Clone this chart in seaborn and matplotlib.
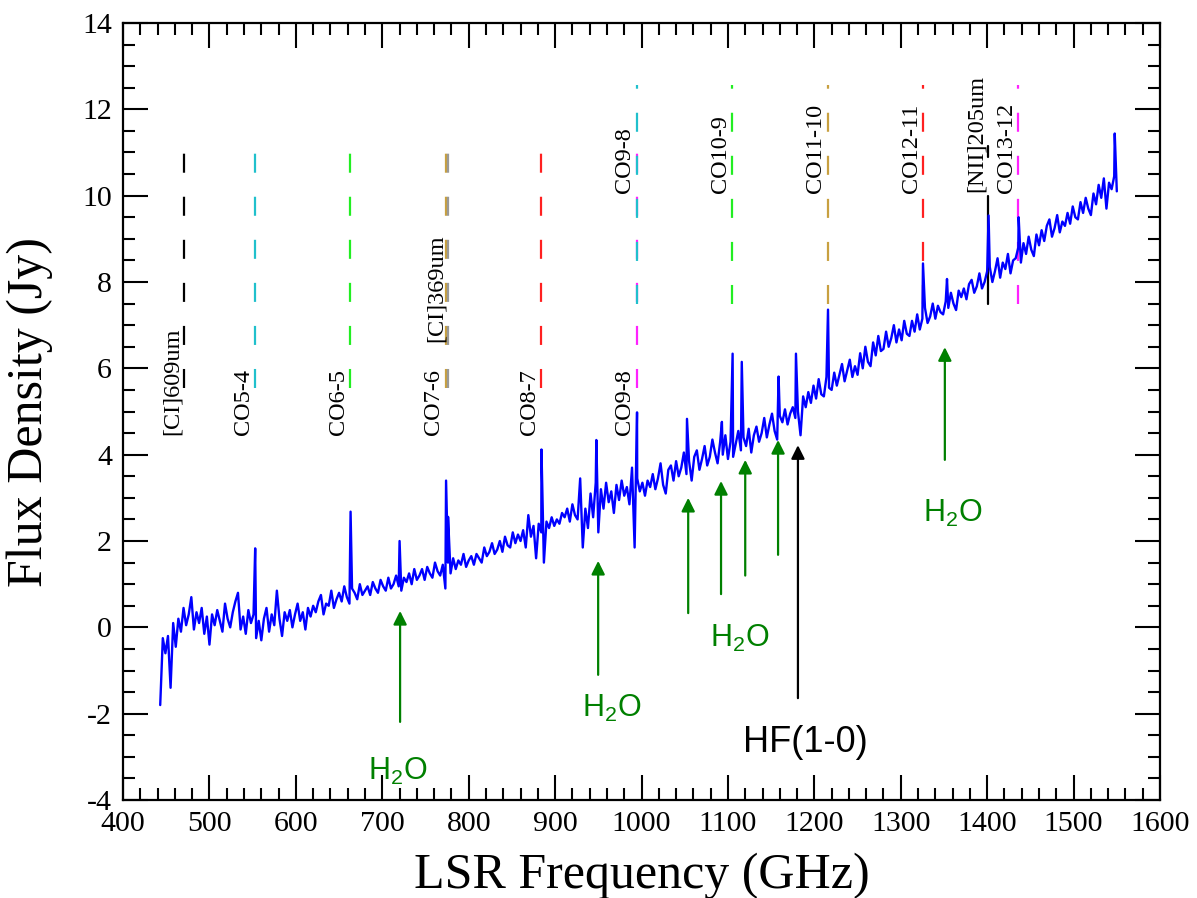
import numpy as np
import pandas as pd
import matplotlib
matplotlib.use("Agg")
import matplotlib.pyplot as plt
from matplotlib.ticker import MultipleLocator
import seaborn as sns

# ---------------- data ----------------
# continuum channels: start, step (GHz)
grid_start, grid_step = 443, 3
flux_continuum = [
    -1.80, -0.25, -0.60, -0.20, -1.40, 0.10, -0.45, 0.20, -0.10, 0.45,
    0.05, 0.30, 0.70, -0.05, 0.35, 0.10, 0.45, -0.15, 0.25, -0.40,
    0.30, 0.05, 0.40, 0.15, -0.10, 0.55, 0.20, 0.00, 0.35, 0.60,
    0.80, -0.05, 0.25, -0.15, 0.40, 0.10, 0.30, -0.25, 0.15, -0.30,
    0.20, 0.45, -0.10, 0.30, 0.05, 0.85, 0.20, -0.20, 0.35, 0.15,
    0.40, 0.00, 0.30, 0.55, 0.15, 0.35, -0.05, 0.45, 0.25, 0.50,
    0.35, 0.60, 0.75, 0.30, 0.55, 0.50, 0.85, 0.45, 0.65, 0.80,
    0.60, 0.95, 0.70, 0.55, 0.90, 0.80, 0.65, 1.00, 0.75, 0.85,
    0.95, 0.75, 1.05, 0.90, 0.80, 1.10, 0.95, 0.85, 1.15, 0.90,
    1.00, 1.20, 0.95, 0.85, 1.15, 1.05, 1.25, 1.00, 1.35, 1.10,
    1.20, 1.35, 1.10, 1.40, 1.25, 1.15, 1.50, 1.30, 1.20, 1.45,
    0.90, 1.50, 1.25, 1.60, 1.35, 1.55, 1.45, 1.70, 1.40, 1.55,
    1.65, 1.45, 1.70, 1.60, 1.50, 1.85, 1.65, 1.75, 1.95, 1.70,
    1.80, 2.00, 1.75, 2.10, 1.90, 1.85, 2.20, 1.95, 2.15, 2.00,
    2.25, 1.85, 2.60, 2.10, 2.35, 1.60, 2.40, 2.20, 1.50, 2.45,
    2.30, 2.55, 2.35, 2.50, 2.40, 2.65, 2.55, 2.75, 2.45, 2.85,
    2.60, 2.50, 3.45, 1.85, 2.75, 2.30, 3.10, 2.55, 3.35, 2.20,
    3.20, 2.75, 3.35, 2.90, 3.15, 2.65, 3.30, 2.95, 3.40, 3.05,
    3.25, 2.85, 3.70, 1.85, 3.45, 3.15, 3.35, 3.05, 3.40, 3.25,
    3.55, 3.20, 3.45, 3.80, 3.30, 3.10, 3.65, 3.75, 3.40, 3.85,
    3.50, 3.70, 4.05, 3.55, 3.85, 3.40, 3.95, 4.10, 3.65, 3.90,
    4.20, 3.75, 3.95, 4.35, 4.05, 3.80, 4.30, 4.00, 4.45, 3.90,
    4.30, 3.95, 4.25, 4.55, 4.10, 4.40, 4.20, 4.60, 4.05, 4.45,
    4.65, 4.30, 4.50, 4.85, 4.40, 4.70, 4.95, 4.55, 4.35, 4.90,
    4.75, 5.05, 4.70, 4.95, 5.10, 4.85, 5.00, 4.45, 5.35, 5.10,
    5.45, 5.20, 5.60, 5.30, 5.75, 5.40, 5.35, 5.80, 5.55, 5.50,
    5.90, 5.60, 5.85, 6.10, 5.70, 5.95, 6.20, 5.80, 6.05, 5.85,
    6.35, 6.00, 6.50, 6.15, 6.05, 6.60, 6.30, 6.75, 6.40, 6.45,
    6.85, 6.50, 6.70, 7.00, 6.60, 6.90, 6.65, 7.10, 6.80, 6.75,
    7.10, 6.85, 7.25, 6.90, 7.15, 7.40, 7.05, 7.20, 7.50, 7.15,
    7.45, 7.30, 7.25, 7.55, 7.40, 7.75, 7.50, 7.35, 7.80, 7.65,
    7.85, 7.60, 7.95, 8.05, 7.75, 7.90, 8.20, 7.85, 8.00, 8.25,
    8.35, 8.00, 8.25, 8.55, 8.10, 8.45, 8.30, 8.65, 8.20, 8.50,
    8.55, 8.80, 8.45, 8.90, 8.65, 9.05, 8.75, 8.60, 9.10, 8.85,
    9.20, 8.95, 9.30, 9.45, 9.05, 9.25, 9.55, 9.15, 9.40, 9.30,
    9.60, 9.35, 9.75, 9.50, 9.45, 9.85, 9.60, 9.95, 9.70, 9.55,
    10.05, 9.80, 10.25, 9.95, 10.40, 9.70, 10.30, 10.15, 10.45, 10.10,
]

# emission spikes
spike_freq = [552.9, 663.3, 720.0, 773.8, 776.1, 884.2, 947.7, 994.8, 1052.6,
              1093.0, 1105.4, 1116.0, 1158.6, 1178.7, 1215.8, 1325.7, 1353.5,
              1401.6, 1436.4, 1547.6]
spike_flux = [1.83, 2.68, 2.00, 3.40, 2.56, 4.12, 4.34, 4.98, 4.83,
              4.76, 6.34, 6.15, 5.81, 6.34, 7.36, 8.43, 8.07,
              9.54, 9.50, 11.44]

# line identifications (lower row)
low_labels = ["[CI]609um", "CO5-4", "CO6-5", "CO7-6", "[CI]369um", "CO8-7", "CO9-8"]
low_freqs = [471.0, 552.5, 663.0, 773.3, 775.6, 883.5, 994.5]
low_colors = ["black", "#20c0cc", "#22ee22", "#c8a040", "#999999", "#ff2020", "#ff22ff"]
low_label_y = [4.45, 4.45, 4.45, 4.45, 6.61, 4.45, 4.45]

# line identifications (upper row)
up_labels = ["CO9-8", "CO10-9", "CO11-10", "CO12-11", "[NII]205um", "CO13-12"]
up_freqs = [994.5, 1105.2, 1215.3, 1325.6, 1401.5, 1436.0]
up_colors = ["#20c0cc", "#22ee22", "#c8a040", "#ff2020", "black", "#ff22ff"]
up_label_y = [10.06, 10.06, 10.06, 10.06, 10.08, 10.06]

# arrows (x, tail, tip)
arrow_x = [720.6, 949.8, 1054.0, 1092.0, 1120.0, 1158.0, 1181.0, 1351.0]
arrow_tail = [-2.19, -1.10, 0.33, 0.77, 1.20, 1.68, -1.64, 3.88]
arrow_tip = [0.38, 1.54, 3.00, 3.39, 3.88, 4.34, 4.22, 6.49]
arrow_color = ["green", "green", "green", "green", "green", "green", "black", "green"]

# species annotations
note_text = ["H$_2$O", "H$_2$O", "H$_2$O", "H$_2$O", "HF(1-0)"]
note_x = [718.0, 965.0, 1113.0, 1359.5, 1189.4]
note_y = [-3.54, -2.08, -0.45, 2.44, -2.89]
note_color = ["green", "green", "green", "green", "black"]
note_size = [22, 22, 22, 22, 26]

# ---------------- figure ----------------
sns.set_style("ticks")
plt.rcParams["font.family"] = ["Liberation Serif", "DejaVu Serif"]
plt.rcParams["mathtext.default"] = "regular"
plt.rcParams["lines.scale_dashes"] = False
plt.rcParams["axes.unicode_minus"] = False
plt.rcParams["text.color"] = "black"
plt.rcParams["axes.labelcolor"] = "black"
plt.rcParams["xtick.color"] = "black"
plt.rcParams["ytick.color"] = "black"

fig = plt.figure(figsize=(11.97, 8.98), dpi=100)
ax = fig.add_axes([0.1028, 0.1091, 0.8663, 0.8653])

grid = grid_start + grid_step * np.arange(len(flux_continuum))
df = pd.DataFrame({
    "freq": np.concatenate([grid, spike_freq]),
    "flux": np.concatenate([flux_continuum, spike_flux]),
}).sort_values("freq")

dash = (13.7, 17.3)
for f, lab, c, ly in zip(low_freqs, low_labels, low_colors, low_label_y):
    ax.plot([f, f], [5.55, 11.0], color=c, lw=1.6, dashes=dash, zorder=1)
    ax.text(f - 1.5, ly, lab, rotation=90, ha="right", va="bottom",
            fontsize=17.5, color="black", zorder=3)
for f, lab, c, ly in zip(up_freqs, up_labels, up_colors, up_label_y):
    if lab.startswith("[NII]"):
        ax.plot([f, f], [7.5, 10.0], color=c, lw=1.6, zorder=1)
        ax.plot([f, f], [10.9, 11.15], color=c, lw=1.6, zorder=1)
    else:
        ax.plot([f, f], [7.5, 12.56], color=c, lw=1.6, dashes=dash, zorder=1)
    ax.text(f - 1.5, ly, lab, rotation=90, ha="right", va="bottom",
            fontsize=17.5, color="black", zorder=3)

sns.lineplot(data=df, x="freq", y="flux", color="#0000ff", lw=1.7,
             estimator=None, sort=True, ax=ax, zorder=2)

for x, t0, t1, c in zip(arrow_x, arrow_tail, arrow_tip, arrow_color):
    ax.annotate("", xy=(x, t1), xytext=(x, t0),
                arrowprops=dict(arrowstyle="-|>", color=c, lw=1.6,
                                mutation_scale=20, shrinkA=0, shrinkB=0))

for t, x, y, c, s in zip(note_text, note_x, note_y, note_color, note_size):
    ax.text(x, y, t, color=c, fontsize=s, ha="center", va="baseline",
            family=["Liberation Sans", "DejaVu Sans"])

ax.set_xlim(400, 1600)
ax.set_ylim(-4, 14)
ax.xaxis.set_major_locator(MultipleLocator(100))
ax.xaxis.set_minor_locator(MultipleLocator(20))
ax.yaxis.set_major_locator(MultipleLocator(2))
ax.yaxis.set_minor_locator(MultipleLocator(0.5))
ax.tick_params(which="both", direction="in", top=True, right=True,
               width=1.5, colors="black", labelcolor="black", labelsize=21.5)
ax.tick_params(which="major", length=18, pad=8)
ax.tick_params(which="minor", length=8.6)
for sp in ax.spines.values():
    sp.set_linewidth(1.6)
    sp.set_color("black")

ax.set_xlabel("LSR Frequency (GHz)", fontsize=36, color="black")
ax.set_ylabel("Flux Density (Jy)", fontsize=36, color="black")
ax.xaxis.set_label_coords(0.5, -0.068)
ax.yaxis.set_label_coords(-0.0675, 0.5)

fig.savefig("out.png", dpi=100)
